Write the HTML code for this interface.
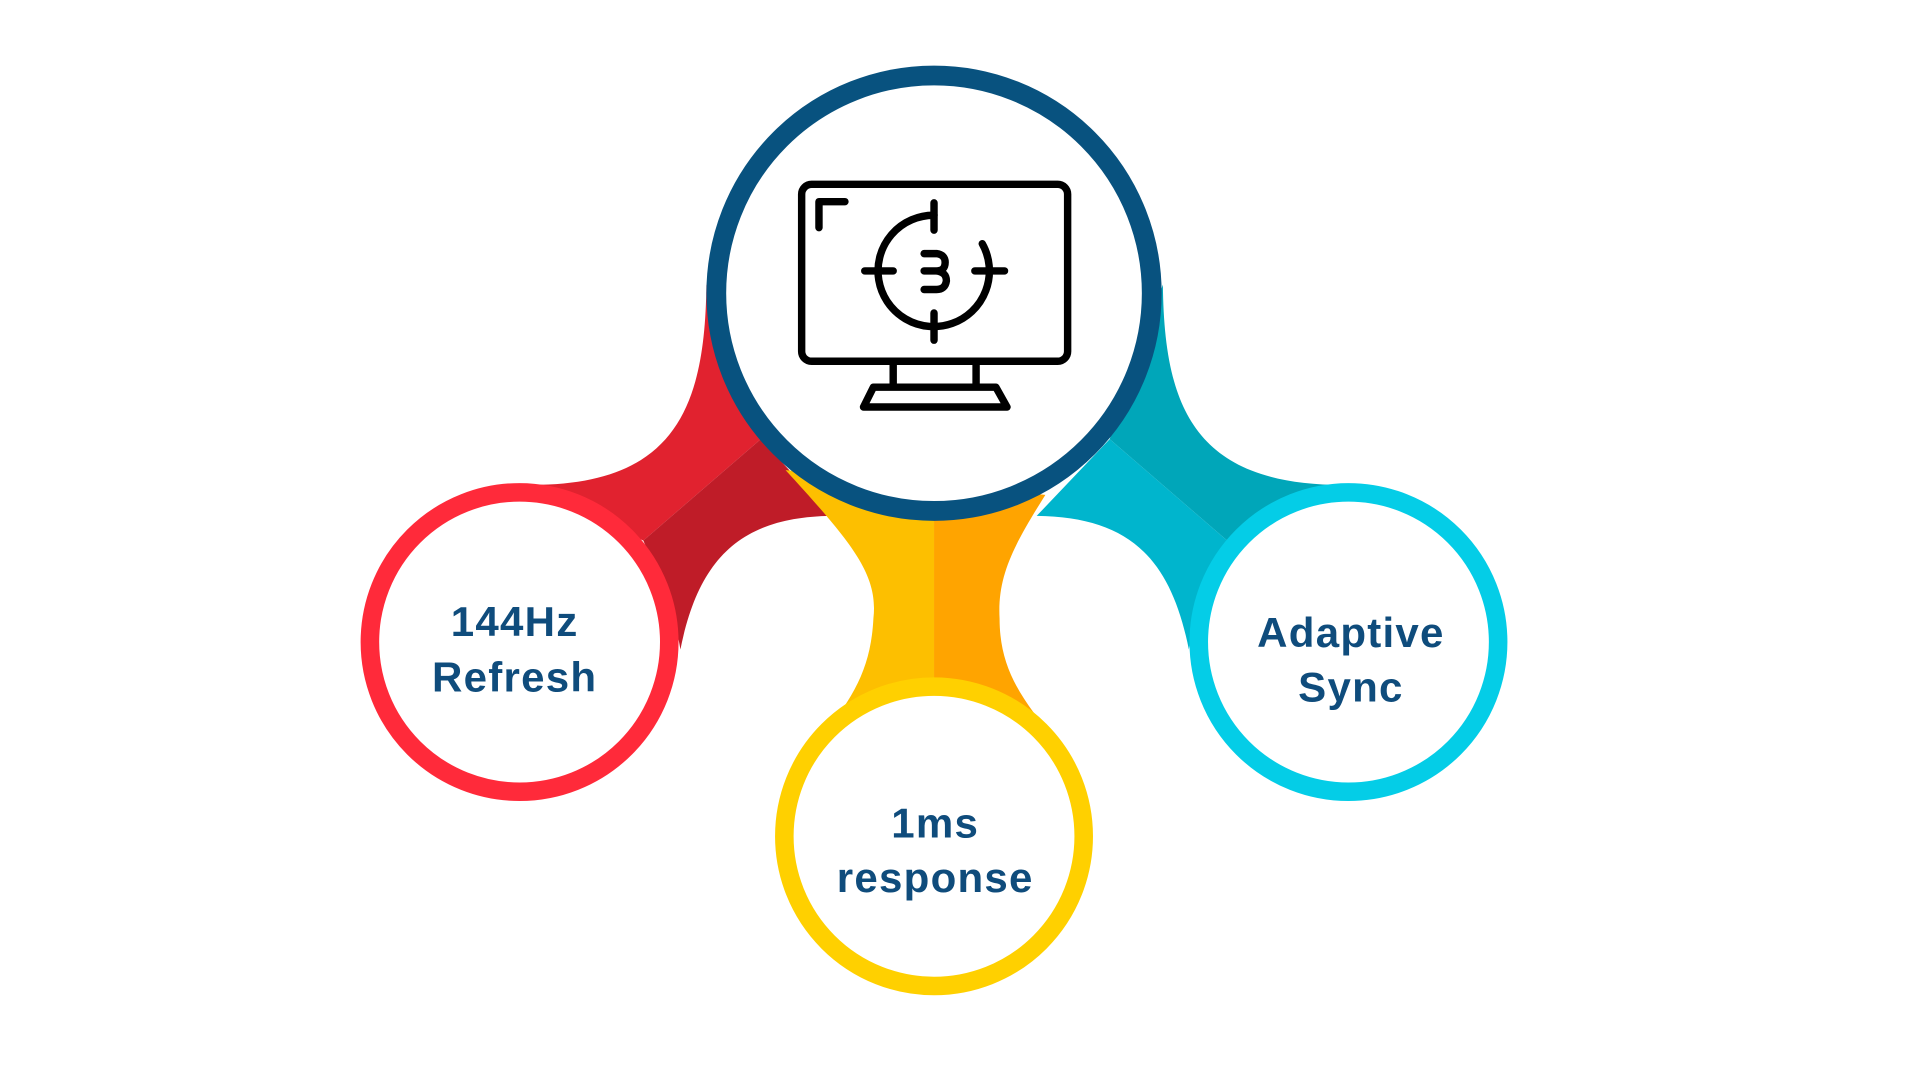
<!DOCTYPE html>
<html><head><meta charset="utf-8"><style>
html,body{margin:0;padding:0;background:#fff;width:1920px;height:1080px;overflow:hidden}
svg{display:block}
text{font-family:"Liberation Sans",sans-serif;font-weight:bold;fill:#0f4c7c;font-size:34px;text-anchor:middle;letter-spacing:1px}
</style></head><body>
<svg width="1920" height="1080" viewBox="0 0 1552 873" preserveAspectRatio="none" xmlns="http://www.w3.org/2000/svg">
<defs>
<clipPath id="L"><rect x="0" y="0" width="755" height="873"/></clipPath>
<clipPath id="R"><rect x="755" y="0" width="800" height="873"/></clipPath>
</defs>
<path d="M571,230 C570,330 545,392 430,392 L520,437 L615,355 Z" fill="#e1222f"/>
<path d="M615,355 L520,437 C535,470 546,500 550,525 C565,450 600,418 672,417 Z" fill="#bf1c28"/>
<path d="M940,230 C941,330 966,392 1086,392 L992,437 L897,355 Z" fill="#00a6b9"/>
<path d="M897,355 L992,437 C977,470 965,500 961,525 C946,450 912,418 838,417 Z" fill="#00b5cd"/>
<g>
<path d="M635,380 C690,440 710,465 706,500 C704,540 690,565 660,600 L855,600 C825,565 808,540 808,500 C806,465 820,440 845,400 Z" fill="#fdbf00" clip-path="url(#L)"/>
<path d="M635,380 C690,440 710,465 706,500 C704,540 690,565 660,600 L855,600 C825,565 808,540 808,500 C806,465 820,440 845,400 Z" fill="#ffa400" clip-path="url(#R)"/>
</g>
<circle cx="755" cy="237" r="176" fill="#fff" stroke="#08527f" stroke-width="16"/>
<circle cx="420" cy="519" r="121" fill="#fff" stroke="#ff2a3a" stroke-width="15"/>
<circle cx="755" cy="676" r="121" fill="#fff" stroke="#ffd000" stroke-width="15"/>
<circle cx="1090" cy="519" r="121" fill="#fff" stroke="#04cde7" stroke-width="15"/>
<g fill="none" stroke="#000" stroke-width="6" stroke-linecap="round" stroke-linejoin="round">
<rect x="648" y="149" width="215" height="143" rx="8"/>
<path d="M662,184 L662,163 L683,163"/>
<path d="M722,294 L722,310 M789,294 L789,310"/>
<path d="M706,313 L805,313 L814,329 L698,329 Z"/>
<path d="M755,174 A45,45 0 1 0 794,197"/>
<path d="M755,164 L755,186 M755,253 L755,275 M699,219 L722,219 M788,219 L812,219"/>
<path d="M747,205 L757,205 Q764,206 764,212 Q764,219 757,219 L747,219 M757,219 Q765,220 765,227 Q764,234 757,234 L747,234"/>
</g>
<text x="416" y="514">144Hz</text>
<text x="416" y="559">Refresh</text>
<text x="756" y="677">1ms</text>
<text x="756" y="721">response</text>
<text x="1092" y="523">Adaptive</text>
<text x="1092" y="567">Sync</text>
</svg>
</body></html>
